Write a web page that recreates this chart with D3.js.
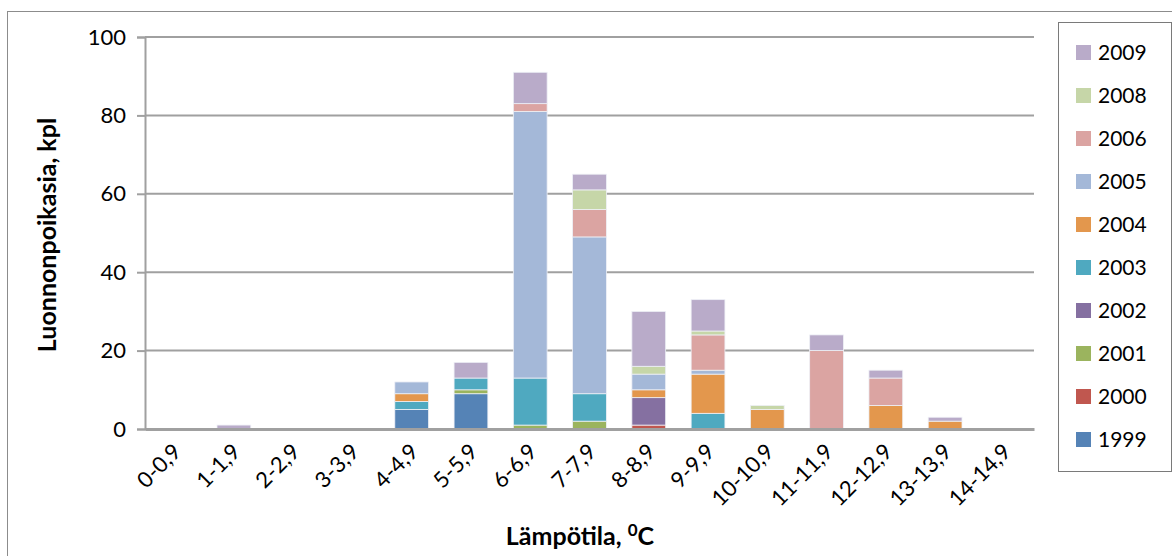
<!DOCTYPE html>
<html>
<head>
<meta charset="utf-8">
<script src="https://cdn.jsdelivr.net/npm/d3@7"></script>
<style>
  body { margin: 0; background: #fff; }
  svg { display: block; font-family: Lato, 'Open Sans', sans-serif; }
</style>
</head>
<body>
<div id="chart"></div>
<script>
const categories = ['0-0,9', '1-1,9', '2-2,9', '3-3,9', '4-4,9', '5-5,9', '6-6,9', '7-7,9',
    '8-8,9', '9-9,9', '10-10,9', '11-11,9', '12-12,9', '13-13,9', '14-14,9'];

const years = ['1999', '2000', '2001', '2002', '2003', '2004', '2005', '2006', '2008', '2009'];

const v1999 = [0, 0, 0, 0, 5, 9, 0, 0, 0, 0, 0, 0, 0, 0, 0];
const v2000 = [0, 0, 0, 0, 0, 0, 0, 0, 1, 0, 0, 0, 0, 0, 0];
const v2001 = [0, 0, 0, 0, 0, 1, 1, 2, 0, 0, 0, 0, 0, 0, 0];
const v2002 = [0, 0, 0, 0, 0, 0, 0, 0, 7, 0, 0, 0, 0, 0, 0];
const v2003 = [0, 0, 0, 0, 2, 3, 12, 7, 0, 4, 0, 0, 0, 0, 0];
const v2004 = [0, 0, 0, 0, 2, 0, 0, 0, 2, 10, 5, 0, 6, 2, 0];
const v2005 = [0, 0, 0, 0, 3, 0, 68, 40, 4, 1, 0, 0, 0, 0, 0];
const v2006 = [0, 0, 0, 0, 0, 0, 2, 7, 0, 9, 0, 20, 7, 0, 0];
const v2008 = [0, 0, 0, 0, 0, 0, 0, 5, 2, 1, 1, 0, 0, 0, 0];
const v2009 = [0, 1, 0, 0, 0, 4, 8, 4, 14, 8, 0, 4, 2, 1, 0];

const yTicks = [0, 20, 40, 60, 80, 100];

const seriesValues = [v1999, v2000, v2001, v2002, v2003, v2004, v2005, v2006, v2008, v2009];
const colors = ['#5583B6', '#C0574F', '#9BB45E', '#8570A1', '#4FA9C0', '#E3974D',
    '#A4B8D8', '#DBA4A2', '#C6D6A8', '#B9ABC9'];

const W = 1172, H = 556;
const margin = { top: 37, right: 138, bottom: 127, left: 145 };
const width = W - margin.left - margin.right;
const height = H - margin.top - margin.bottom;

const table = categories.map((c, i) => {
    const row = { cat: c };
    years.forEach((y, k) => { row[y] = seriesValues[k][i]; });
    return row;
});
const stacked = d3.stack().keys(years)(table);

const svgRoot = d3.select('#chart').append('svg')
    .attr('width', W)
    .attr('height', H);

// outer chart frame
svgRoot.append('rect')
    .attr('x', 7.5).attr('y', 11.5)
    .attr('width', W + 10).attr('height', H + 10)
    .attr('fill', 'none')
    .attr('stroke', '#8c8c8c')
    .attr('stroke-width', 1);

const svg = svgRoot.append('g')
    .attr('transform', `translate(${margin.left},${margin.top})`);

const x = d3.scaleBand().domain(categories).range([0, width]).paddingInner(0.43).paddingOuter(0.215);
const y = d3.scaleLinear().domain([0, 100]).range([height, 0]);

// gridlines
svg.append('g')
    .selectAll('line')
    .data(yTicks.filter(t => t > 0))
    .join('line')
    .attr('x1', 0).attr('x2', width)
    .attr('y1', d => y(d)).attr('y2', d => y(d))
    .attr('stroke', '#a0a0a0')
    .attr('stroke-width', 2);

// bars
const colorOf = d3.scaleOrdinal().domain(years).range(colors);
svg.append('g')
    .selectAll('g')
    .data(stacked)
    .join('g')
    .attr('fill', d => colorOf(d.key))
    .selectAll('rect')
    .data(d => d.filter(p => p[1] - p[0] > 0))
    .join('rect')
    .attr('x', d => x(d.data.cat))
    .attr('width', x.bandwidth())
    .attr('y', d => y(d[1]))
    .attr('height', d => y(d[0]) - y(d[1]))
    .attr('stroke', '#eef0f6')
    .attr('stroke-width', 0.8);

// y axis
const yAxis = svg.append('g')
    .call(d3.axisLeft(y).tickValues(yTicks).tickSize(8).tickPadding(11));
yAxis.select('.domain').attr('stroke', '#a0a0a0').attr('stroke-width', 2);
yAxis.selectAll('.tick line').attr('stroke', '#a0a0a0').attr('stroke-width', 2);
yAxis.selectAll('text')
    .style('font-size', '22px')
    .style('font-family', 'Lato, sans-serif')
    .attr('fill', '#000');

// x axis
const xAxis = svg.append('g')
    .attr('transform', `translate(0,${height})`)
    .call(d3.axisBottom(x).tickSize(0).tickPadding(0).tickSizeOuter(0));
xAxis.select('.domain').attr('stroke', '#a0a0a0').attr('stroke-width', 3);
xAxis.selectAll('text')
    .attr('text-anchor', 'end')
    .attr('dy', 0)
    .attr('transform', 'translate(8,24) rotate(-45)')
    .style('font-size', '22px')
    .style('font-family', 'Lato, sans-serif')
    .attr('fill', '#000');

// axis titles
svgRoot.append('text')
    .attr('transform', 'translate(56,235) rotate(-90)')
    .attr('text-anchor', 'middle')
    .style('font-size', '25px')
    .style('font-weight', 'bold')
    .text('Luonnonpoikasia, kpl');

const xt = svgRoot.append('text')
    .attr('x', 580).attr('y', 545)
    .attr('text-anchor', 'middle')
    .style('font-size', '25px')
    .style('font-weight', 'bold');
xt.append('tspan').text('Lämpötila, ');
xt.append('tspan').attr('dy', -9).style('font-size', '17px').text('0');
xt.append('tspan').attr('dy', 9).text('C');

// legend
const legend = svgRoot.append('g');
legend.append('rect')
    .attr('x', 1058.5).attr('y', 22.5)
    .attr('width', 113).attr('height', 449)
    .attr('fill', '#fff')
    .attr('stroke', '#7a7a7a')
    .attr('stroke-width', 1);

const legendYears = years.slice().reverse();
const ly = d3.scalePoint().domain(legendYears).range([53, 440]);
const items = legend.selectAll('g.item')
    .data(legendYears)
    .join('g')
    .attr('class', 'item')
    .attr('transform', d => `translate(1076,${ly(d)})`);
items.append('rect')
    .attr('x', 0).attr('y', -8)
    .attr('width', 15).attr('height', 15)
    .attr('fill', d => colorOf(d));
items.append('text')
    .attr('x', 22).attr('y', 0)
    .attr('dy', '0.35em')
    .style('font-size', '21px')
    .text(d => d);
</script>
</body>
</html>
